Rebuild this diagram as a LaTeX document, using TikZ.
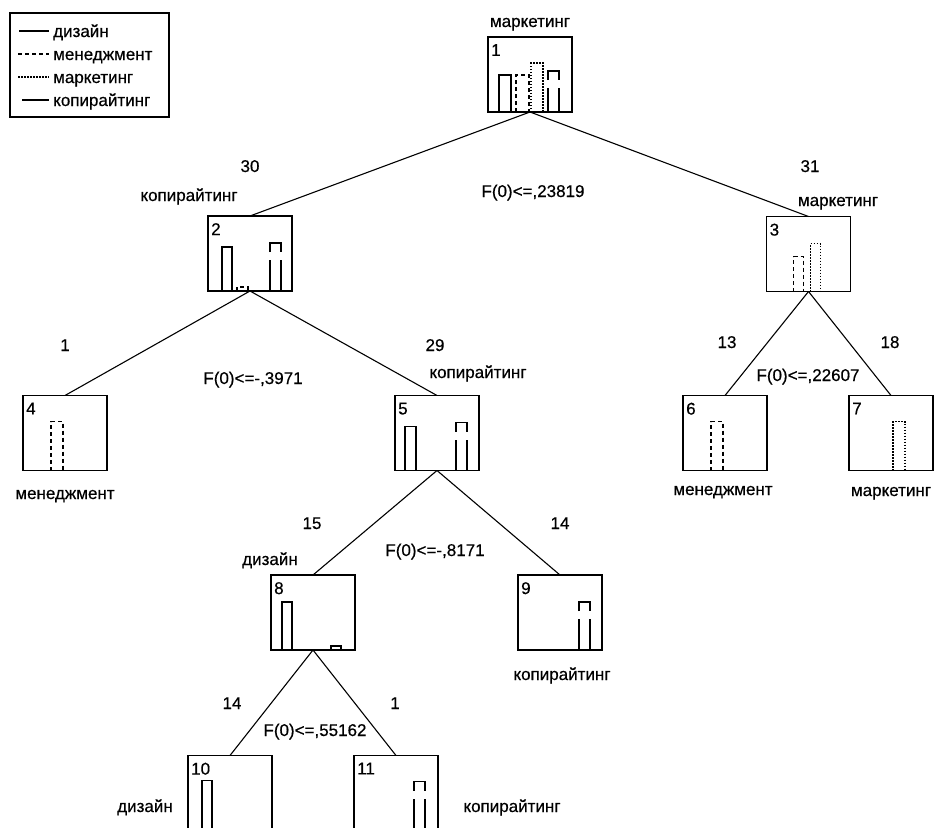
\documentclass[tikz,border=0pt]{standalone}
\usepackage{fontspec}
\setmainfont[FakeBold=0.5]{Liberation Sans}
\usetikzlibrary{positioning}

% bar of a class histogram: node, style, offset, width, height
\newcommand{\histbar}[5]{%
  \draw[#2] ([xshift=#3pt]#1.south west) -- ++(0,-#5) -- ++(#4,0) -- ++(0,#5);}
% copywriting bar: node, offset, width, height
\newcommand{\copybar}[4]{%
  \draw[CopyStyle] ([xshift=#2pt,yshift=#4pt-9pt]#1.south west) -- ++(0,-9) -- ++(#3,0) -- ++(0,9);
  \draw[CopyStyle] ([xshift=#2pt]#1.south west) -- ++(0,-#4+17);
  \draw[CopyStyle] ([xshift=#2pt+#3pt]#1.south west) -- ++(0,-#4+17);}

\begin{document}
\begin{tikzpicture}[x = 1pt, y = -1pt]
  \tikzset{BoxStyle/.style    = {shape          = rectangle,
                                 draw,
                                 line width     = 1.1pt,
                                 minimum width  = 84pt,
                                 minimum height = 75pt,
                                 inner sep      = 0pt,
                                 outer sep      = 0pt}}
  \tikzset{EdgeStyle/.style   = {line width     = 1.1pt}}
  \tikzset{LabelStyle/.style  = {font           = \fontsize{17}{20}\selectfont,
                                 inner sep      = 0pt,
                                 anchor         = base}}
  \tikzset{NumStyle/.style    = {font           = \fontsize{17}{20}\selectfont,
                                 inner sep      = 0pt,
                                 anchor         = north west}}
  \tikzset{DesignStyle/.style = {line width     = 1.1pt}}
  \tikzset{ManagStyle/.style  = {line width     = 1.1pt,
                                 dash pattern   = on 4pt off 3pt}}
  \tikzset{MarketStyle/.style = {line width     = 1.1pt,
                                 dash pattern   = on 1.5pt off 1.5pt}}
  \tikzset{CopyStyle/.style   = {line width     = 1.1pt}}
  \useasboundingbox (0,0) rectangle (934,827);
  \clip (0,0) rectangle (934,827);
  \fill[white] (0,0) rectangle (934,827);
  % legend
  \draw[line width = 1.4pt] (10,13) rectangle (169,117);
  \node[LabelStyle, anchor = base west] (lgDesign) at (53,37)  {дизайн};
  \node[LabelStyle, anchor = base west] (lgManag)  at (53,60)  {менеджмент};
  \node[LabelStyle, anchor = base west] (lgMarket) at (53,83)  {маркетинг};
  \node[LabelStyle, anchor = base west] (lgCopy)   at (53,106) {копирайтинг};
  \draw[DesignStyle] (19,31)  -- (49,31);
  \draw[ManagStyle]  (18,54)  -- (49,54);
  \draw[MarketStyle] (18,77)  -- (49,77);
  \draw[CopyStyle]   (22,100) -- (49,100);
  % tree boxes
  \node[BoxStyle] (n1)  at (530,74.5) {};
  \node[BoxStyle] (n2)  at (250,253.5) {};
  \node[BoxStyle] (n3)  at (808.5,254) {};
  \node[BoxStyle] (n4)  at (65,433) {};
  \node[BoxStyle] (n5)  at (437,433) {};
  \node[BoxStyle] (n6)  at (725,433) {};
  \node[BoxStyle] (n7)  at (891,433) {};
  \node[BoxStyle] (n8)  at (313,612.5) {};
  \node[BoxStyle] (n9)  at (560,612.5) {};
  \node[BoxStyle] (n10) at (230,793) {};
  \node[BoxStyle] (n11) at (396,793) {};
  % box numbers
  \foreach \n in {1,...,11}
    \node[NumStyle] (num\n) at ([xshift=3pt,yshift=-7pt]n\n.north west) {\n};
  % edges
  \draw[EdgeStyle] (n1.south) -- (n2.north);
  \draw[EdgeStyle] (n1.south) -- (n3.north);
  \draw[EdgeStyle] (n2.south) -- (n4.north);
  \draw[EdgeStyle] (n2.south) -- (n5.north);
  \draw[EdgeStyle] (n3.south) -- (n6.north);
  \draw[EdgeStyle] (n3.south) -- (n7.north);
  \draw[EdgeStyle] (n5.south) -- (n8.north);
  \draw[EdgeStyle] (n5.south) -- (n9.north);
  \draw[EdgeStyle] (n8.south) -- (n10.north);
  \draw[EdgeStyle] (n8.south) -- (n11.north);
  % histograms
  \histbar{n1}{DesignStyle}{11}{12}{37}
  \histbar{n1}{ManagStyle}{28}{13}{37}
  \histbar{n1}{MarketStyle}{43}{12}{49}
  \copybar{n1}{60}{11}{41}
  \histbar{n2}{DesignStyle}{14}{10}{44}
  \histbar{n2}{ManagStyle}{29}{11}{4}
  \copybar{n2}{62}{11}{48}
  \histbar{n3}{ManagStyle}{27}{10}{35}
  \histbar{n3}{MarketStyle}{44}{10}{48}
  \histbar{n4}{ManagStyle}{28}{12}{49}
  \histbar{n5}{DesignStyle}{10}{11}{44}
  \copybar{n5}{61}{11}{48}
  \histbar{n6}{ManagStyle}{28}{12}{49}
  \histbar{n7}{MarketStyle}{44}{12}{49}
  \histbar{n8}{DesignStyle}{11}{10}{48}
  \histbar{n8}{DesignStyle}{60}{10}{4}
  \copybar{n9}{61}{11}{48}
  \histbar{n10}{DesignStyle}{14}{10}{50}
  \copybar{n11}{60}{11}{49}
  % class names
  \node[LabelStyle] (c1)  at (530,27)  {маркетинг};
  \node[LabelStyle] (c2)  at (189,201) {копирайтинг};
  \node[LabelStyle] (c3)  at (838,206) {маркетинг};
  \node[LabelStyle] (c4)  at (65,499)  {менеджмент};
  \node[LabelStyle] (c5)  at (478,378) {копирайтинг};
  \node[LabelStyle] (c6)  at (723,495) {менеджмент};
  \node[LabelStyle] (c7)  at (891,496) {маркетинг};
  \node[LabelStyle] (c8)  at (270,565) {дизайн};
  \node[LabelStyle] (c9)  at (562,680) {копирайтинг};
  \node[LabelStyle] (c10) at (145,812) {дизайн};
  \node[LabelStyle] (c11) at (512,812) {копирайтинг};
  % counts
  \node[LabelStyle] (k2)  at (250,172) {30};
  \node[LabelStyle] (k3)  at (810,172) {31};
  \node[LabelStyle] (k4)  at (65,351)  {1};
  \node[LabelStyle] (k5)  at (435,351) {29};
  \node[LabelStyle] (k6)  at (727,348) {13};
  \node[LabelStyle] (k7)  at (890,348) {18};
  \node[LabelStyle] (k8)  at (312,529) {15};
  \node[LabelStyle] (k9)  at (560,529) {14};
  \node[LabelStyle] (k10) at (232,709) {14};
  \node[LabelStyle] (k11) at (395,709) {1};
  % split conditions
  \node[LabelStyle] (s1) at (533,197) {F(0)<=,23819};
  \node[LabelStyle] (s2) at (253,384) {F(0)<=-,3971};
  \node[LabelStyle] (s3) at (808,381) {F(0)<=,22607};
  \node[LabelStyle] (s5) at (435,556) {F(0)<=-,8171};
  \node[LabelStyle] (s8) at (315,736) {F(0)<=,55162};
\end{tikzpicture}
\end{document}
